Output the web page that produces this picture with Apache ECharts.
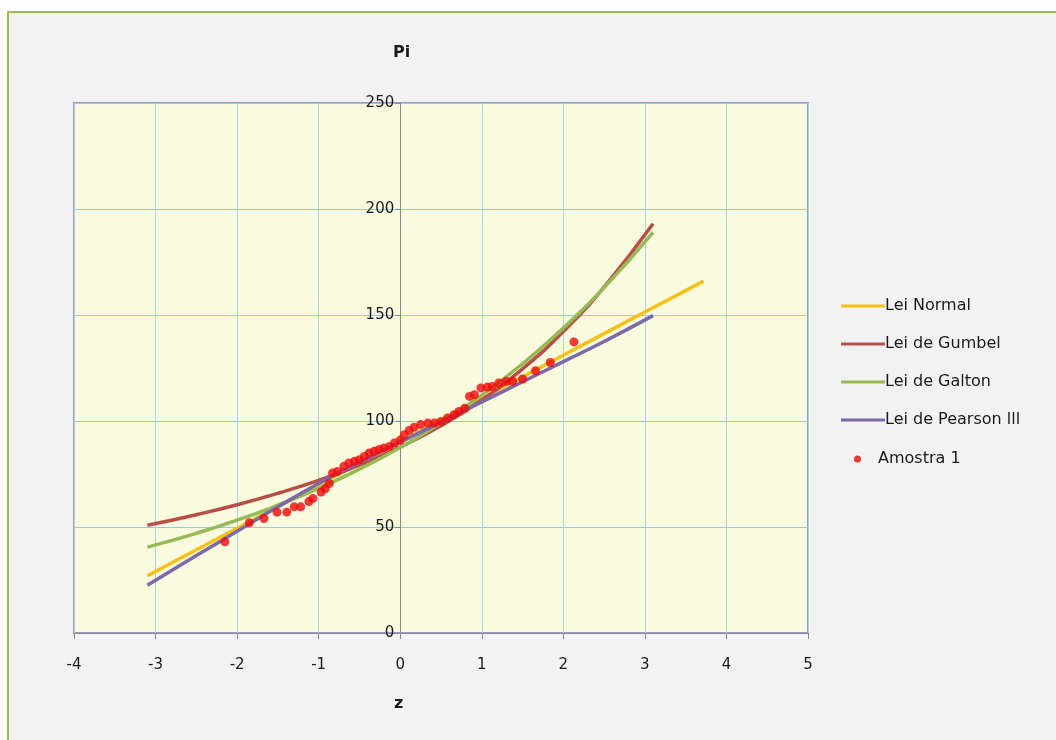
<!DOCTYPE html>
<html>
<head>
<meta charset="utf-8">
<script src="https://cdn.jsdelivr.net/npm/echarts@6/dist/echarts.min.js"></script>
<style>
  body { margin: 0; background: #ffffff; }
  #frame { position: absolute; left: 7px; top: 11px; width: 1100px; height: 800px;
           border: 2px solid #9bbb59; background: #f2f2f2; }
  #main { position: absolute; left: 0; top: 0; width: 1056px; height: 740px; }
</style>
</head>
<body>
<div id="frame"></div>
<div id="main"></div>
<script>
  // curvas teóricas (z, Pi)
  var zCurve = [-3.1, -2.5, -2, -1.5, -1, -0.5, 0, 0.5, 1, 1.5, 2, 2.5, 3.1];
  var gumbelVals = [50.8, 55.8, 60.5, 65.9, 72.0, 79.2, 87.7, 97.8, 109.9, 124.6, 142.2, 163.2, 193];
  var galtonVals = [40.5, 47.0, 53.2, 60.3, 68.2, 77.3, 87.5, 99.1, 112.2, 127.0, 143.8, 162.9, 189];
  var pearsonVals = [22.5, 36.5, 48, 59.5, 70.5, 80.5, 90, 99.5, 109, 118.5, 128, 137.5, 149.7];
  var zNormal = [-3.1, -2, -1, 0, 1, 2, 3, 3.72];
  var normalVals = [27, 49.4, 69.8, 90.2, 110.6, 131, 151.4, 166];

  // amostra 1
  var zSample = [-2.15, -1.85, -1.67, -1.51, -1.39, -1.30, -1.22, -1.12, -1.07, -0.97,
    -0.92, -0.87, -0.83, -0.77, -0.69, -0.63, -0.56, -0.50, -0.44, -0.38,
    -0.32, -0.26, -0.20, -0.13, -0.07, 0.0, 0.05, 0.11, 0.17, 0.25,
    0.34, 0.42, 0.50, 0.58, 0.66, 0.72, 0.79, 0.85, 0.91, 0.99,
    1.07, 1.13, 1.21, 1.30, 1.38, 1.50, 1.66, 1.84, 2.13];
  var sampleVals = [43, 52, 54, 57, 57, 59.5, 59.5, 62, 63.5, 66.5,
    68, 70.5, 75.5, 76.2, 78.6, 80.2, 81, 81.7, 83.3, 84.9,
    85.7, 86.5, 87.3, 88, 89.6, 91, 93.5, 95.5, 97, 98.3,
    99, 99, 99.8, 101.4, 103, 104.5, 106, 111.6, 112.4, 115.6,
    116, 116.3, 117.9, 118.7, 118.7, 119.8, 123.7, 127.6, 137.3];

  var xTicks = [-4, -3, -2, -1, 0, 1, 2, 3, 4, 5];
  var yTicks = [0, 50, 100, 150, 200, 250];

  function pairs(xs, ys) {
    return xs.map(function (x, i) { return [x, ys[i]]; });
  }

  var font = 'DejaVu Sans';
  var myChart = echarts.init(document.getElementById('main'));

  function lineSeries(name, xs, ys, color) {
    return {
      name: name, type: 'line', smooth: true, showSymbol: false, symbol: 'none',
      data: pairs(xs, ys),
      lineStyle: { color: color, width: 3.5 },
      itemStyle: { color: color },
      z: 3
    };
  }

  // eixo y desenhado sobre z = 0
  var gridLeft = 74, gridWidth = 734;
  var yAxisOffset = -gridWidth * (0 - xTicks[0]) / (xTicks[xTicks.length - 1] - xTicks[0]);

  var option = {
    animation: false,
    backgroundColor: 'transparent',
    textStyle: { fontFamily: font },
    grid: {
      left: gridLeft, top: 103, width: gridWidth, height: 530,
      show: true, backgroundColor: '#fafadf', borderColor: '#9f97c6', borderWidth: 2
    },
    legend: [{
      orient: 'vertical', left: 836, top: 293, itemGap: 22,
      itemWidth: 44, itemHeight: 3, icon: 'rect',
      textStyle: { fontFamily: font, fontSize: 16, color: '#1a1a1a', padding: [0, 0, 0, -5] },
      data: ['Lei Normal', 'Lei de Gumbel', 'Lei de Galton', 'Lei de Pearson lll']
    }, {
      orient: 'vertical', left: 849, top: 446,
      itemWidth: 7, itemHeight: 7, icon: 'circle', itemGap: 0,
      textStyle: { fontFamily: font, fontSize: 16, color: '#1a1a1a', padding: [0, 0, 0, 12] },
      data: ['Amostra 1']
    }],
    graphic: [{
      type: 'text', left: 393, top: 45,
      style: { text: 'Pi', font: 'bold 16px "DejaVu Sans"', fill: '#1a1a1a' }
    }, {
      type: 'text', left: 394, top: 696,
      style: { text: 'z', font: 'bold 16px "DejaVu Sans"', fill: '#1a1a1a' }
    }],
    xAxis: {
      type: 'value', min: xTicks[0], max: xTicks[xTicks.length - 1], interval: 1,
      axisLine: { onZero: false, lineStyle: { color: '#8a8a8a', width: 1 } },
      axisTick: { show: true, length: 6, lineStyle: { color: '#8a8a8a' } },
      axisLabel: { fontSize: 15, color: '#1a1a1a', margin: 25 },
      splitLine: { show: true, lineStyle: { color: '#a9d5e6', width: 1 } }
    },
    yAxis: {
      type: 'value', min: yTicks[0], max: yTicks[yTicks.length - 1], interval: 50,
      offset: yAxisOffset,
      axisLine: { show: true, onZero: false, lineStyle: { color: '#8a8a8a', width: 1 } },
      axisTick: { show: true, length: 5, lineStyle: { color: '#8a8a8a' } },
      axisLabel: { fontSize: 15, color: '#1a1a1a', margin: 6, verticalAlign: 'middle' },
      splitLine: { show: true, lineStyle: { color: '#8fcbe6', width: 1.2 } }
    },
    series: [
      lineSeries('Lei Normal', zNormal, normalVals, '#f5c116'),
      lineSeries('Lei de Gumbel', zCurve, gumbelVals, '#b94e48'),
      lineSeries('Lei de Galton', zCurve, galtonVals, '#95bb55'),
      lineSeries('Lei de Pearson lll', zCurve, pearsonVals, '#7d68a8'),
      {
        name: 'Amostra 1', type: 'scatter', symbol: 'circle', symbolSize: 9,
        data: pairs(zSample, sampleVals),
        itemStyle: { color: '#f00a0a' },
        z: 5
      }
    ]
  };

  myChart.setOption(option);
</script>
</body>
</html>
